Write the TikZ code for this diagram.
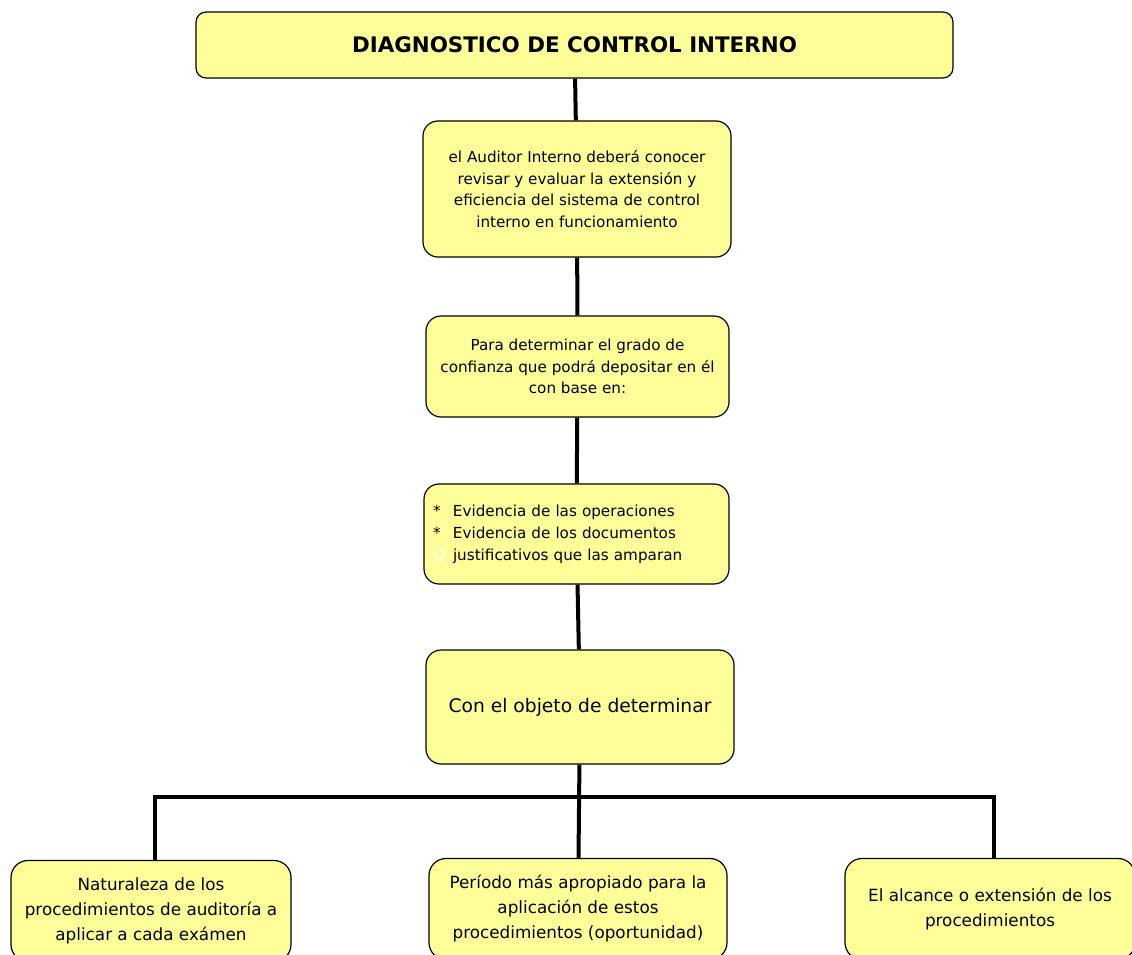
\documentclass[tikz,border=0pt]{standalone}
\usepackage{fontspec}
\setmainfont{DejaVu Sans}
\definecolor{boxyellow}{RGB}{255,255,153}

\begin{document}
\begin{tikzpicture}[x=1pt,y=-1pt]
   \tikzstyle{box}=[draw,fill=boxyellow,rounded corners=15pt,line width=1.2pt,align=center,inner sep=0pt,font=\fontsize{15.2}{21.8}\selectfont]
   \tikzstyle{leaf}=[box,rounded corners=17pt,minimum height=101pt,font=\fontsize{16.8}{25}\selectfont]
   \tikzstyle{link}=[line width=4pt]
\useasboundingbox (0,0) rectangle (1132,954);

\node[box,rounded corners=10pt,minimum width=757pt,minimum height=66pt,font=\fontsize{21.4}{25}\selectfont\bfseries](diag) at (574.5,45) {DIAGNOSTICO DE CONTROL INTERNO};
\node[box,minimum width=308pt,minimum height=136pt](aud) at (577,189)
  {el Auditor Interno deberá conocer\\ revisar y evaluar la extensión y\\ eficiencia del sistema de control\\ interno en funcionamiento};
\node[box,minimum width=303pt,minimum height=101pt](conf) at (577.5,366.5)
  {Para determinar el grado de\\ confianza que podrá depositar en él\\ con base en:};
\node[box,align=left,text width=287pt,inner xsep=9pt,minimum height=100pt](evid) at (576.5,534)
  {\makebox[20pt][l]{*}Evidencia de las operaciones\\
   \makebox[20pt][l]{*}Evidencia de los documentos\\
   \makebox[20pt][l]{\color{white}Q}justificativos que las amparan};
\node[box,minimum width=308pt,minimum height=114pt,font=\fontsize{18.7}{23}\selectfont](obj) at (580,707)
  {Con el objeto de determinar};

\node[leaf,minimum width=280pt](nat) at (151,911)
  {Naturaleza de los\\ procedimientos de auditoría a\\ aplicar a cada exámen};
\node[leaf,minimum width=298pt](per) at (578,909)
  {Período más apropiado para la\\ aplicación de estos\\ procedimientos (oportunidad)};
\node[leaf,minimum width=290pt](alc) at (990,909)
  {El alcance o extensión de los\\ procedimientos};

\coordinate (bar) at (579,797);
\draw[link] (diag) -- (aud);
\draw[link] (aud) -- (conf);
\draw[link] (conf) -- (evid);
\draw[link] (evid) -- (obj);
\draw[link] (obj) -- (per);
\draw[link] ([xshift=4pt]nat.north) |- (bar) -| ([xshift=4pt]alc.north);

\end{tikzpicture}
\end{document}
